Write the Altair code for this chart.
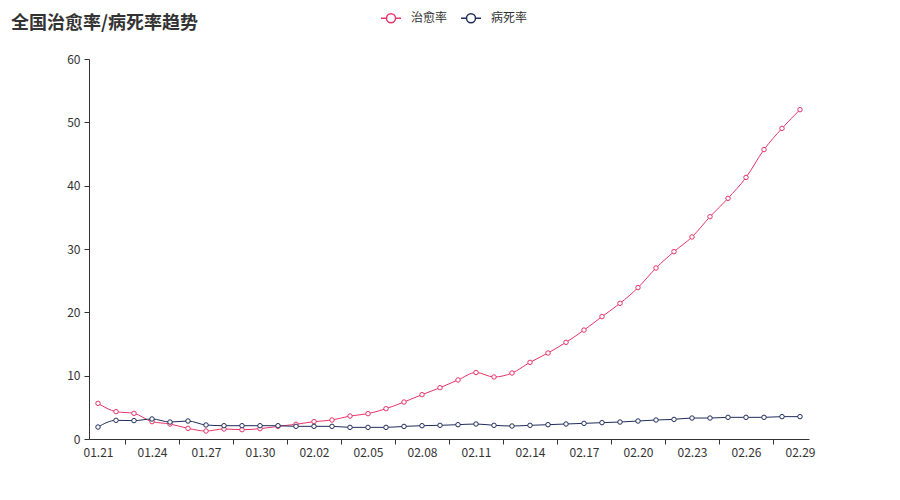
import altair as alt
import pandas as pd

dates = ["01.21", "01.22", "01.23", "01.24", "01.25", "01.26", "01.27", "01.28", "01.29", "01.30",
         "01.31", "02.01", "02.02", "02.03", "02.04", "02.05", "02.06", "02.07", "02.08", "02.09",
         "02.10", "02.11", "02.12", "02.13", "02.14", "02.15", "02.16", "02.17", "02.18", "02.19",
         "02.20", "02.21", "02.22", "02.23", "02.24", "02.25", "02.26", "02.27", "02.28", "02.29"]

cure_rate = [5.63, 4.32, 4.05, 2.74, 2.37, 1.68, 1.26, 1.58, 1.47, 1.63,
             2.0, 2.32, 2.74, 3.0, 3.63, 4.0, 4.79, 5.84, 7.0, 8.1,
             9.32, 10.5, 9.79, 10.42, 12.1, 13.58, 15.26, 17.2, 19.32, 21.42,
             23.9, 27.0, 29.58, 31.9, 35.1, 38.0, 41.3, 45.7, 49.05, 52.0]

death_rate = [1.89, 2.95, 2.9, 3.16, 2.68, 2.84, 2.21, 2.1, 2.1, 2.1,
              2.1, 2.0, 2.0, 2.0, 1.84, 1.84, 1.84, 1.99, 2.1, 2.16,
              2.26, 2.37, 2.16, 2.05, 2.16, 2.26, 2.37, 2.47, 2.58, 2.68,
              2.84, 3.0, 3.1, 3.31, 3.31, 3.42, 3.42, 3.42, 3.53, 3.53]

series_names = ["治愈率", "病死率"]
series_colors = ["#e8356b", "#1f2d5c"]

rows = []
for i, d in enumerate(dates):
    rows.append({"i": i, "date": d, "series": series_names[0], "value": cure_rate[i]})
    rows.append({"i": i, "date": d, "series": series_names[1], "value": death_rate[i]})
df = pd.DataFrame(rows)

FONT = "Noto Sans CJK SC"
label_list = "[" + ",".join("'" + d + "'" for d in dates) + "]"
tick_values = [k * 1.5 for k in range(0, 27)]

x = alt.X(
    "i:Q",
    scale=alt.Scale(domain=[-0.5, len(dates) - 0.5], nice=False, zero=False),
    axis=alt.Axis(
        title=None,
        values=tick_values,
        labelExpr="datum.value % 3 === 0 ? " + label_list + "[datum.value] : ''",
        labelOverlap=False,
        labelFlush=False,
        grid=False,
        domainColor="#333333",
        tickColor="#333333",
        tickSize=5,
        tickOpacity={"condition": {"test": "datum.value % 3 !== 0", "value": 1}, "value": 0},
        labelColor="#333333",
        labelFontSize=12,
        labelPadding=3,
        labelFont=FONT,
    ),
)

y = alt.Y(
    "value:Q",
    scale=alt.Scale(domain=[0, 60], nice=False),
    axis=alt.Axis(
        title=None,
        values=[0, 10, 20, 30, 40, 50, 60],
        grid=False,
        domainColor="#333333",
        tickColor="#333333",
        tickSize=5,
        labelColor="#333333",
        labelFontSize=12,
        labelPadding=4,
        labelFont=FONT,
    ),
)

stroke = alt.Stroke(
    "series:N",
    scale=alt.Scale(domain=series_names, range=series_colors),
    legend=alt.Legend(
        title=None,
        orient="none",
        direction="horizontal",
        legendX=291,
        legendY=-52,
        symbolType="M-1,0H-0.45M0.45,0H1M0.45,0A0.45,0.45,0,1,1,-0.45,0A0.45,0.45,0,1,1,0.45,0",
        symbolSize=400,
        symbolStrokeWidth=1.5,
        symbolFillColor="white",
        labelFontSize=12,
        labelColor="#333333",
        labelFont=FONT,
        labelOffset=9,
        columnPadding=10,
        padding=0,
    ),
)

lines = alt.Chart(df).mark_line(strokeWidth=1, interpolate="monotone").encode(x=x, y=y, stroke=stroke)
points = alt.Chart(df).mark_point(shape="circle", filled=True, fill="white", size=20,
                                  strokeWidth=1, opacity=1).encode(x=x, y=y, stroke=stroke)

chart = alt.layer(lines, points).properties(
    width=720,
    height=380,
    title=alt.Title("全国治愈率/病死率趋势", anchor="start", frame="group", fontSize=18,
                    fontWeight="bold", color="#333333", font=FONT, dx=-78, dy=42, offset=16),
    autosize=alt.AutoSizeParams(type="none"),
    padding={"left": 81, "top": 51, "right": 20, "bottom": 30},
).configure_view(stroke=None)

chart.save("out.html", embed_options={"renderer": "svg", "actions": False})
